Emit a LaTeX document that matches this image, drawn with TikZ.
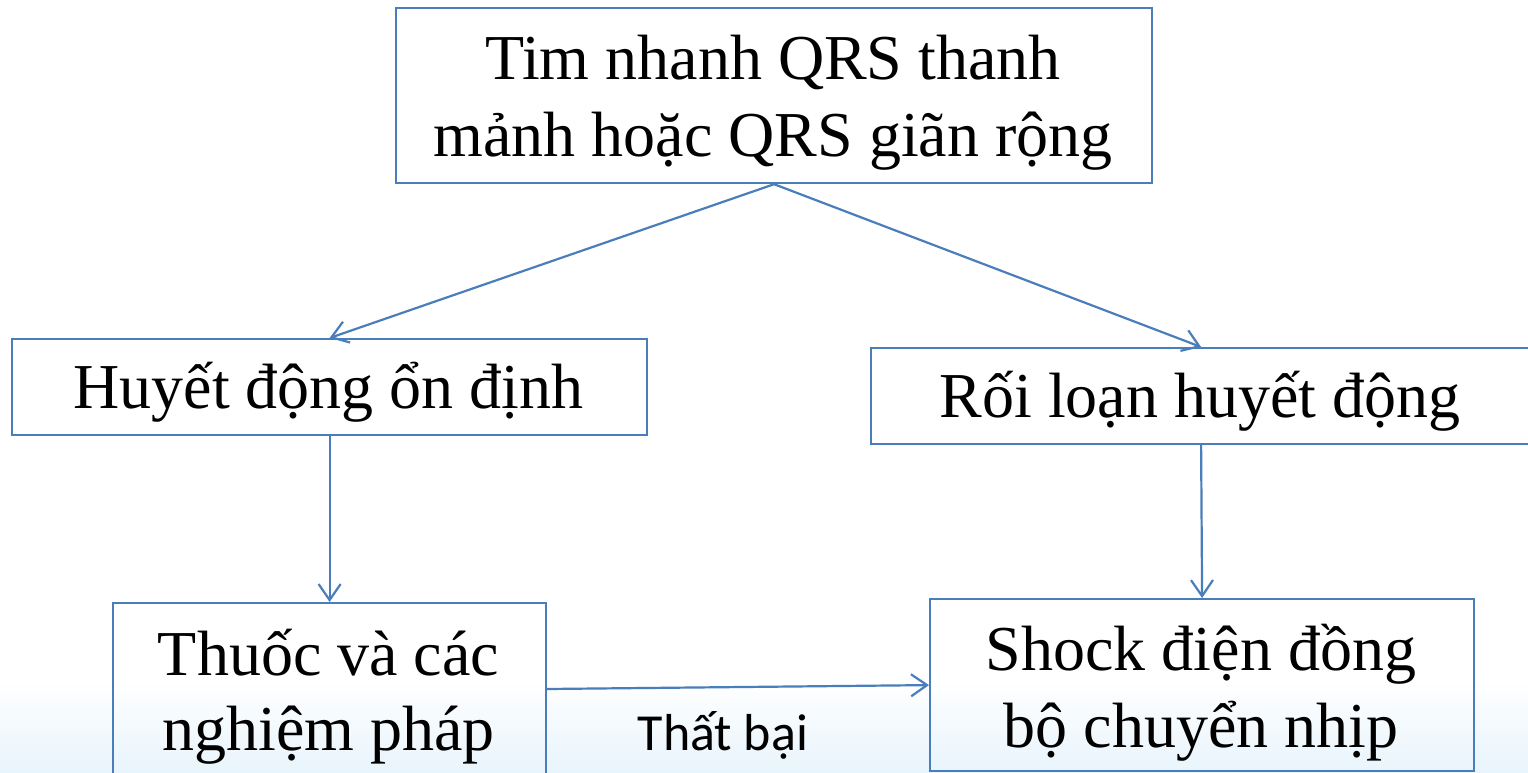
\documentclass[tikz,border=0pt]{standalone}
\usepackage{fontspec}
\setmainfont{Liberation Serif}
\newfontfamily\labelfont{Carlito}
\usetikzlibrary{arrows.meta,calc}
\definecolor{boxblue}{RGB}{74,126,187}
\definecolor{bgblue}{RGB}{232,244,252}
\tikzset{
  box/.style={draw=boxblue, line width=2.2pt, rectangle, inner sep=0pt, anchor=north west},
  txt/.style={anchor=base, inner sep=0pt, align=center, text=black, font=\fontsize{64}{77}\selectfont},
  conn/.style={draw=boxblue, line width=2.2pt, -{Straight Barb[length=16pt,width=22pt,line width=2.2pt]}},
}
\begin{document}
\begin{tikzpicture}[x=1pt,y=-1pt]
\useasboundingbox (0,0) rectangle (1528,773);
\fill[white] (0,0) rectangle (1528,773);
\shade[top color=white, bottom color=bgblue] (0,680) rectangle (1528,773);
\node[box, minimum width=756pt, minimum height=175pt] (top) at (395,7) {};
\node[box, minimum width=635pt, minimum height=96pt] (huyet) at (11,338) {};
\node[box, minimum width=660pt, minimum height=96pt] (roi) at (870,347) {};
\node[box, minimum width=433pt, minimum height=188pt] (thuoc) at (112,602) {};
\node[box, minimum width=544pt, minimum height=172pt] (shock) at (929,598) {};
\node[txt] (toptext) at (773,157) {Tim nhanh QRS thanh\\mảnh hoặc QRS giãn rộng};
\node[txt] (huyettext) at (328.5,408) {Huyết động ổn định};
\node[txt] (roitext) at (1200,417) {Rối loạn huyết động};
\node[txt, font=\fontsize{64}{75}\selectfont] (thuoctext) at (328.5,750) {Thuốc và các\\nghiệm pháp};
\node[txt, font=\fontsize{64}{77}\selectfont] (shocktext) at (1201,747) {Shock điện đồng\\bộ chuyển nhịp};
\node[anchor=base, inner sep=0pt, font=\labelfont\fontsize{52}{60}\selectfont] (fail) at (723,750) {Thất bại};
\draw[conn] (top.south) -- (huyet.north);
\draw[conn] (top.south) -- (roi.north);
\draw[conn] (huyet.south) -- (thuoc.north);
\draw[conn] (roi.south) -- (shock.north);
\draw[conn] ($(thuoc.north east)+(0,87)$) -- (shock.west);
\end{tikzpicture}
\end{document}
